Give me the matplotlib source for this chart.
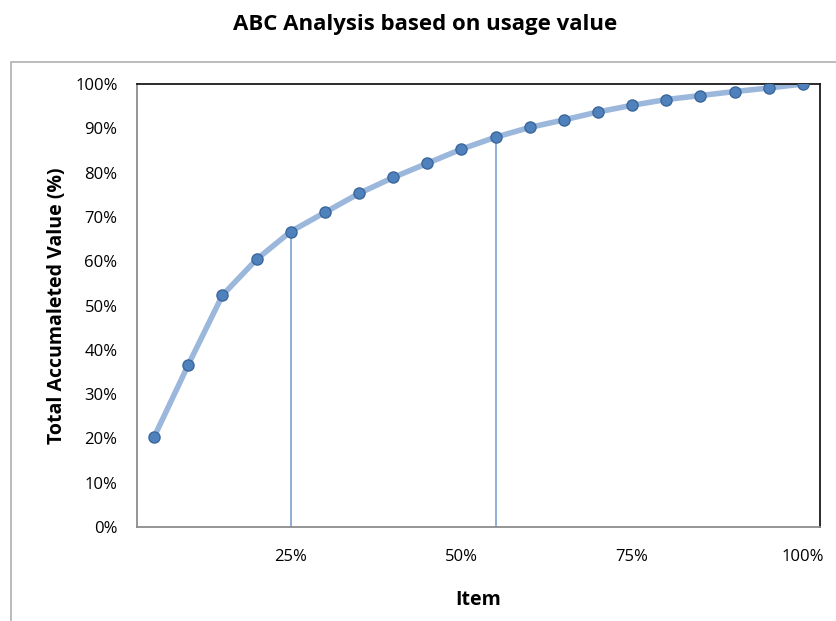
import matplotlib.pyplot as plt
from matplotlib.patches import Rectangle

# item share (%) and cumulative value (%)
items = [5, 10, 15, 20, 25, 30, 35, 40, 45, 50, 55, 60, 65, 70, 75, 80, 85, 90, 95, 100]
cum_value = [20.3, 36.6, 52.3, 60.4, 66.7, 71.0, 75.3, 78.9, 82.1, 85.3,
             88.0, 90.2, 91.9, 93.7, 95.2, 96.5, 97.4, 98.3, 99.1, 100.0]
cutoff_items = [25, 55]
xtick_items = [25, 50, 75, 100]

plt.rcParams['font.family'] = ['Open Sans', 'DejaVu Sans']

fig = plt.figure(figsize=(8.37, 6.21), dpi=100)
ax = fig.add_axes([0.1637, 0.1514, 0.8160, 0.7133])

# outer chart border (cut by the image edges)
fig.patches.append(Rectangle((11 / 837, -0.1), 1.2, 1 - 62 / 621 + 0.1,
                             transform=fig.transFigure, fill=False,
                             edgecolor='#b0b0b0', linewidth=1.2))

pos = list(range(1, len(items) + 1))
ax.plot(pos, cum_value, color='#9bb7dc', linewidth=4, solid_capstyle='round', zorder=2)
ax.plot(pos, cum_value, linestyle='none', marker='o', markersize=8,
        markerfacecolor='#4f81bd', markeredgecolor='#3b679b', markeredgewidth=1, zorder=3)

for c in cutoff_items:
    i = items.index(c)
    ax.vlines(pos[i], 0, cum_value[i], color='#6f98cc', linewidth=1.1, zorder=1)

ax.set_xlim(0.5, len(items) + 0.5)
ax.set_ylim(0, 100)
ax.set_yticks(range(0, 101, 10))
ax.set_yticklabels([f'{v}%' for v in range(0, 101, 10)], fontsize=12)
ax.set_xticks([pos[items.index(v)] for v in xtick_items])
ax.set_xticklabels([f'{v}%' for v in xtick_items], fontsize=12)
ax.tick_params(axis='x', length=0, pad=16)
ax.tick_params(axis='y', length=0, pad=14)

for s in ['left', 'bottom']:
    ax.spines[s].set_color('#8c8c8c')
    ax.spines[s].set_linewidth(1.3)
for s in ['top', 'right']:
    ax.spines[s].set_color('#1a1a1a')
    ax.spines[s].set_linewidth(1.3)

ax.set_xlabel('Item', fontsize=14, fontweight='bold', labelpad=18)
ax.set_ylabel('Total Accumaleted Value (%)', fontsize=14, fontweight='bold', labelpad=6)
fig.text(0.508, 0.960, 'ABC Analysis based on usage value', ha='center', va='center',
         fontsize=16, fontweight='bold')

fig.savefig('out.png', dpi=100)
